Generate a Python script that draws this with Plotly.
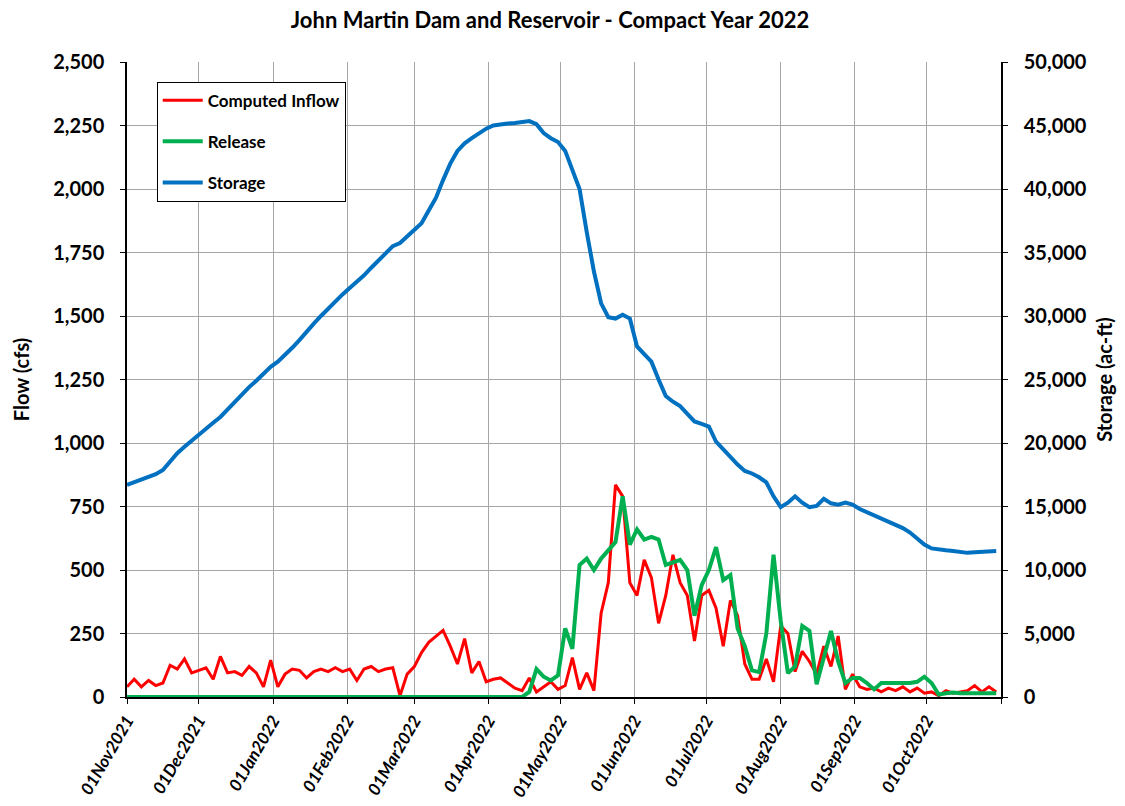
import pandas as pd
import plotly.graph_objects as go

# ---- data (3-day samples, starting 01Nov2021) ----
start_date = "2021-11-01"
step_days = 3

computed_inflow = [
    40, 70, 40, 65, 45, 55, 125, 110, 150, 95,        # d0-27
    105, 115, 70, 160, 95, 100, 85, 120, 95, 40,      # d30-57
    145, 40, 90, 110, 105, 75, 100, 110, 100, 115,    # d60-87
    100, 110, 65, 110, 120, 100, 110, 115, 5, 90,     # d90-117
    120, 175, 215, 240, 262, 200, 130, 230, 95, 140,  # d120-147
    60, 70, 75, 55, 35, 25, 75, 20, 40, 60,           # d150-177
    30, 45, 155, 30, 95, 25, 330, 450, 835, 790,      # d180-207
    450, 400, 540, 470, 290, 400, 560, 450, 400, 220, # d210-237
    400, 420, 350, 200, 380, 320, 130, 70, 70, 150,   # d240-267
    60, 280, 250, 100, 180, 140, 90, 200, 120, 240,   # d270-297
    30, 90, 40, 30, 35, 20, 35, 25, 40, 20,           # d300-327
    35, 15, 20, 5, 25, 15, 20, 25, 45, 20,            # d330-357
    40, 20,                                           # d360-363
]

release = [
    0, 0, 0, 0, 0, 0, 0, 0, 0, 0,
    0, 0, 0, 0, 0, 0, 0, 0, 0, 0,
    0, 0, 0, 0, 0, 0, 0, 0, 0, 0,
    0, 0, 0, 0, 0, 0, 0, 0, 0, 0,
    0, 0, 0, 0, 0, 0, 0, 0, 0, 0,
    0, 0, 0, 0, 0, 0, 20, 110, 80, 65,                # d150-177
    85, 270, 190, 520, 545, 500, 545, 580, 610, 790,  # d180-207
    600, 660, 620, 630, 620, 520, 530, 540, 500, 320, # d210-237
    440, 500, 590, 460, 480, 270, 200, 105, 98, 250,  # d240-267
    560, 300, 94, 120, 280, 260, 50, 150, 260, 140,   # d270-297
    55, 75, 75, 55, 30, 55, 55, 55, 55, 55,           # d300-327
    60, 80, 55, 10, 15, 18, 15, 15, 18, 15,           # d330-357
    18, 15,                                           # d360-363
]

storage = [
    16700, 16900, 17100, 17300, 17550, 17870, 18500, 19200, 19700, 20200,
    20650, 21150, 21600, 22050, 22650, 23300, 23900, 24400, 24900, 25500,
    26000, 26400, 26900, 27500, 28100, 28800, 29400, 30000, 30600, 31100,
    31700, 32200, 32650, 33200, 33800, 34400, 34950, 35500, 35750, 36300,
    36800, 37300, 38300, 39300, 40700, 42000, 43000, 43600, 44000, 44400,
    44750, 45000, 45100, 45150, 45200, 45250, 45350, 45100, 44400, 44000,
    43700, 43000, 41600, 40000, 36600, 33500, 31000, 29900, 29800, 30100,
    29800, 27600, 27000, 26400, 25000, 23700, 23250, 22900, 22300, 21700,
    21500, 21300, 20100, 19500, 18800, 18300, 17800, 17600, 17300, 16900,
    15800, 14950, 15300, 15800, 15300, 14950, 15050, 15600, 15250, 15150,
    15300, 15150, 14800, 14550, 14250, 14000, 13750, 13500, 13300, 12950,
    12500, 12000, 11700, 11600, 11550, 11500, 11400, 11350, 11400, 11450,
    11500, 11500,
]

series_names = ["Computed Inflow", "Release", "Storage"]
series_colors = ["#FF0000", "#00B050", "#0070C0"]

month_ticks = pd.date_range("2021-11-01", "2022-11-01", freq="MS")
month_labels = [d.strftime("%d%b%Y") for d in month_ticks[:-1]] + [""]

flow_ticks = [0, 250, 500, 750, 1000, 1250, 1500, 1750, 2000, 2250, 2500]
storage_ticks = [0, 5000, 10000, 15000, 20000, 25000, 30000, 35000, 40000, 45000, 50000]

dates = pd.date_range(start_date, periods=len(storage), freq=f"{step_days}D")

FONT = "Lato"

fig = go.Figure()
fig.add_trace(go.Scatter(x=dates, y=computed_inflow, name=series_names[0], mode="lines",
                         line=dict(color=series_colors[0], width=3), legendgroup="a"))
fig.add_trace(go.Scatter(x=dates, y=release, name=series_names[1], mode="lines",
                         line=dict(color=series_colors[1], width=4), legendgroup="b"))
fig.add_trace(go.Scatter(x=dates, y=storage, name=series_names[2], mode="lines",
                         line=dict(color=series_colors[2], width=4), legendgroup="c",
                         yaxis="y2"))

grid = "#A6A6A6"
fig.update_layout(
    width=1117, height=798,
    margin=dict(l=119, r=124, t=54, b=109, autoexpand=False),
    paper_bgcolor="white", plot_bgcolor="white",
    font=dict(family=FONT, color="black"),
    title=dict(text="<b>John Martin Dam and Reservoir - Compact Year 2022</b>",
               x=0.484, xref="paper", xanchor="center", y=0.984, yanchor="middle",
               font=dict(family=FONT, size=22, color="black")),
    showlegend=True,
    legend=dict(x=0.034, y=0.969, xanchor="left", yanchor="top",
                bgcolor="white", bordercolor="black", borderwidth=1,
                font=dict(family=FONT, size=17, color="black", weight="bold"),
                tracegroupgap=16, itemwidth=40),
    xaxis=dict(range=["2021-11-01", "2022-11-01"], tickvals=month_ticks, ticktext=month_labels,
               tickangle=-60, tickfont=dict(family=FONT, size=17, weight="bold", style="italic"),
               automargin=False,
               showgrid=True, gridcolor=grid, gridwidth=1,
               showline=True, linecolor="black", linewidth=1.5,
               ticks="outside", ticklen=5, tickcolor="black", zeroline=False),
    yaxis=dict(range=[0, 2500], tickvals=flow_ticks, tickformat=",",
               tickfont=dict(family=FONT, size=20, weight="bold"),
               ticklabelstandoff=12, automargin=False,
               title=dict(text="<b>Flow (cfs)</b>", font=dict(family=FONT, size=20), standoff=18),
               showgrid=True, gridcolor=grid, gridwidth=1,
               showline=True, linecolor="black", linewidth=1.5,
               ticks="outside", ticklen=5, tickcolor="black", zeroline=False),
    yaxis2=dict(range=[0, 50000], tickvals=storage_ticks, tickformat=",",
                overlaying="y", side="right",
                tickfont=dict(family=FONT, size=20, weight="bold"),
                ticklabelstandoff=12, automargin=False,
                title=dict(text="<b>Storage (ac-ft)</b>", font=dict(family=FONT, size=20), standoff=12),
                showgrid=False, showline=True, linecolor="black", linewidth=1.5,
                ticks="outside", ticklen=5, tickcolor="black", zeroline=False),
)

fig.write_html("out.html")
